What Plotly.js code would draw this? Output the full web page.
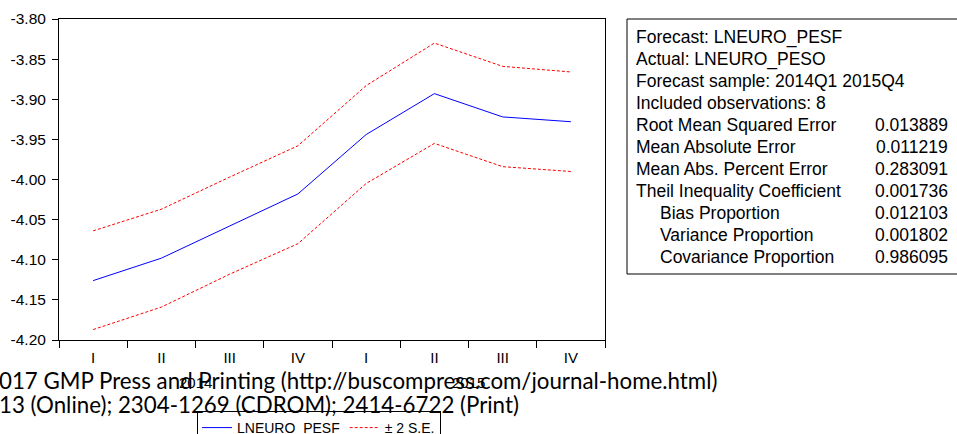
<!DOCTYPE html>
<html>
<head>
<meta charset="utf-8">
<script src="https://cdn.plot.ly/plotly-3.0.1.min.js"></script>
<style>html,body{margin:0;padding:0;background:#fff;}#chart{width:957px;height:434px;}</style>
</head>
<body>
<div id="chart"></div>
<script>
// ---- data ----
var years = ["2014","2014","2014","2014","2015","2015","2015","2015"];
var quarters = ["I","II","III","IV","I","II","III","IV"];
var forecast = [-4.126, -4.098, -4.058, -4.018, -3.944, -3.893, -3.922, -3.928];
var upperSE  = [-4.064, -4.037, -3.997, -3.958, -3.883, -3.830, -3.859, -3.866];
var lowerSE  = [-4.187, -4.159, -4.118, -4.080, -4.005, -3.955, -3.984, -3.990];
var yTickVals = [-4.20, -4.15, -4.10, -4.05, -4.00, -3.95, -3.90, -3.85, -3.80];
var yTickText = ["-4.20","-4.15","-4.10","-4.05","-4.00","-3.95","-3.90","-3.85","-3.80"];
var statHeader = ["Forecast: LNEURO_PESF", "Actual: LNEURO_PESO", "Forecast sample: 2014Q1 2015Q4", "Included observations: 8"];
var statLabels = ["Root Mean Squared Error", "Mean Absolute Error", "Mean Abs. Percent Error", "Theil Inequality Coefficient", "Bias Proportion", "Variance Proportion", "Covariance Proportion"];
var statValues = ["0.013889", "0.011219", "0.283091", "0.001736", "0.012103", "0.001802", "0.986095"];
var statIndent = [false, false, false, false, true, true, true];
var footerLines = ["017 GMP Press and Printing (http://buscompress.com/journal-home.html)", "13 (Online); 2304-1269 (CDROM); 2414-6722 (Print)"];

// ---- geometry helpers (pixel -> paper) ----
var W = 957, H = 434, L = 59, R = 352, T = 19, B = 94;
var PW = W - L - R, PH = H - T - B;
function px(x){ return (x - L) / PW; }
function py(y){ return (H - B - y) / PH; }

// unique category keys built from the period arrays
var periods = years.map(function(y, i){ return y + " " + quarters[i]; });
var font = "Arial, 'Liberation Sans', sans-serif";

var traces = [
  {x: periods, y: forecast, type: "scatter", mode: "lines", name: "LNEURO_PESF",
   line: {color: "#0000ff", width: 1}},
  {x: periods, y: upperSE, type: "scatter", mode: "lines", name: "\u00b1 2 S.E.",
   line: {color: "#ff0000", width: 1, dash: "3px,2px"}, legendgroup: "se"},
  {x: periods, y: lowerSE, type: "scatter", mode: "lines", name: "\u00b1 2 S.E.", showlegend: false,
   line: {color: "#ff0000", width: 1, dash: "3px,2px"}, legendgroup: "se"}
];

var annotations = [];
// year labels centred under each group of quarters (category index scale)
var yearList = years.filter(function(y, i){ return years.indexOf(y) === i; });
yearList.forEach(function(yr){
  var idx = [];
  years.forEach(function(y, i){ if (y === yr) idx.push(i); });
  var mid = (idx[0] + idx[idx.length - 1]) / 2;
  annotations.push({xref: "x", yref: "paper", x: mid, y: py(383), xanchor: "center", yanchor: "middle",
    text: yr, showarrow: false, font: {family: font, size: 15, color: "#000"}});
});

var rowY0 = 37, rowStep = 22, tfs = 17.5;
statHeader.forEach(function(t, i){
  annotations.push({xref: "paper", yref: "paper", x: px(634), y: py(rowY0 + rowStep * i),
    xanchor: "left", yanchor: "middle", text: t, showarrow: false,
    font: {family: font, size: tfs, color: "#000"}});
});
statLabels.forEach(function(t, i){
  var yy = py(rowY0 + rowStep * (i + statHeader.length));
  annotations.push({xref: "paper", yref: "paper", x: px(statIndent[i] ? 658 : 634), y: yy,
    xanchor: "left", yanchor: "middle", text: t, showarrow: false,
    font: {family: font, size: tfs, color: "#000"}});
  annotations.push({xref: "paper", yref: "paper", x: px(950), y: yy,
    xanchor: "right", yanchor: "middle", text: statValues[i], showarrow: false,
    font: {family: font, size: tfs, color: "#000"}});
});
footerLines.forEach(function(t, i){
  annotations.push({xref: "paper", yref: "paper", x: px(-3), y: py(381 + 23 * i),
    xanchor: "left", yanchor: "middle", text: t, showarrow: false,
    font: {family: "Lato, 'Open Sans', sans-serif", size: 22.3, color: "#000"}});
});

var layout = {
  width: W, height: H,
  margin: {l: L, r: R, t: T, b: B, pad: 0, autoexpand: false},
  paper_bgcolor: "#fff", plot_bgcolor: "#fff",
  showlegend: true,
  legend: {orientation: "h", x: px(197), y: py(411), xanchor: "left", yanchor: "top",
    bordercolor: "#000", borderwidth: 1, bgcolor: "#fff", valign: "middle",
    font: {family: font, size: 14, color: "#000"}, itemwidth: 30, tracegroupgap: 0},
  xaxis: {type: "category", range: [-0.5, 7.5], automargin: false,
    tickmode: "array", tickvals: periods, ticktext: quarters,
    showline: true, linecolor: "#000", linewidth: 1, mirror: true,
    ticks: "outside", ticklen: 7, tickcolor: "#000", tickson: "boundaries",
    ticklabelstandoff: 4, showgrid: false, zeroline: false,
    tickfont: {family: font, size: 15, color: "#000"}},
  yaxis: {range: [-4.20, -3.80], tickvals: yTickVals, ticktext: yTickText, automargin: false,
    showline: true, linecolor: "#000", linewidth: 1, mirror: true,
    ticks: "outside", ticklen: 6, tickcolor: "#000", showgrid: false, zeroline: false,
    ticklabelstandoff: 3,
    tickfont: {family: font, size: 15.5, color: "#000"}},
  shapes: [
    {type: "rect", xref: "paper", yref: "paper", x0: px(627), x1: px(962), y0: py(274), y1: py(19),
     line: {color: "#000", width: 1}, fillcolor: "rgba(0,0,0,0)"}
  ],
  annotations: annotations
};

Plotly.newPlot("chart", traces, layout, {displayModeBar: false, staticPlot: true});
</script>
</body>
</html>
